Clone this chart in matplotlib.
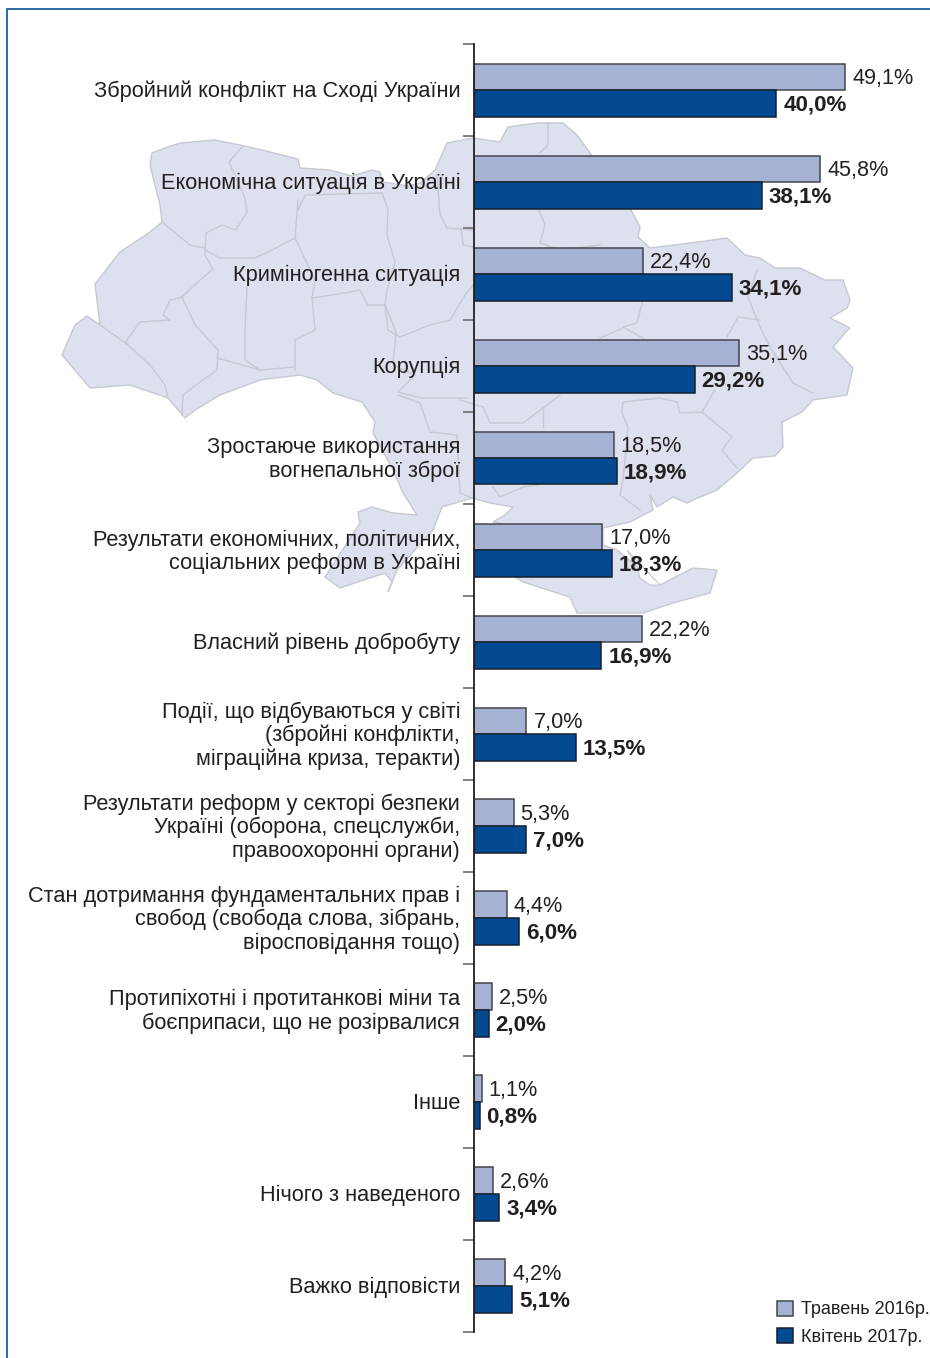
import numpy as np
import matplotlib as mpl
mpl.use("Agg")
from matplotlib import pyplot as plt
from matplotlib.patches import Polygon

plt.rcParams['font.family'] = ['Liberation Sans', 'DejaVu Sans']

categories = [
    "Збройний конфлікт на Сході України",
    "Економічна ситуація в Україні",
    "Криміногенна ситуація",
    "Корупція",
    "Зростаюче використання\nвогнепальної зброї",
    "Результати економічних, політичних,\nсоціальних реформ в Україні",
    "Власний рівень добробуту",
    "Події, що відбуваються у світі\n(збройні конфлікти,\nміграційна криза, теракти)",
    "Результати реформ у секторі безпеки\nУкраїні (оборона, спецслужби,\nправоохоронні органи)",
    "Стан дотримання фундаментальних прав і\nсвобод (свобода слова, зібрань,\nвіросповідання тощо)",
    "Протипіхотні і протитанкові міни та\nбоєприпаси, що не розірвалися",
    "Інше",
    "Нічого з наведеного",
    "Важко відповісти",
]
may_2016 = [49.1, 45.8, 22.4, 35.1, 18.5, 17.0, 22.2, 7.0, 5.3, 4.4, 2.5, 1.1, 2.6, 4.2]
apr_2017 = [40.0, 38.1, 34.1, 29.2, 18.9, 18.3, 16.9, 13.5, 7.0, 6.0, 2.0, 0.8, 3.4, 5.1]
series_names = ["Травень 2016р.", "Квітень 2017р."]

# background map, traced in pixels of the picture
map_outline = [
    (152,153),(165,148),(180,143),(215,140),(245,146),(270,152),(298,159),(300,168),(330,170),
    (352,176),(372,170),(380,172),(383,182),(408,186),(420,183),(435,170),(447,143),(473,138),
    (500,142),(508,127),(537,123),(563,123),(577,135),(590,153),(630,208),(640,227),(638,237),
    (650,248),(690,243),(727,238),(745,255),(760,258),(775,268),(800,268),(825,280),(843,280),
    (850,300),(847,308),(830,318),(850,328),(845,333),(833,347),(853,368),(847,395),(813,400),
    (802,412),(782,422),(783,447),(775,456),(753,458),(737,473),(717,490),(693,500),(687,503),
    (673,497),(657,507),(650,495),(653,510),(630,522),(603,528),(603,545),(617,550),(660,585),
    (693,568),(717,570),(710,593),(673,603),(643,613),(577,613),(570,597),(523,582),(515,577),
    (510,545),(520,527),(493,522),(505,515),(513,507),(490,503),(472,498),(442,507),(433,530),
    (397,570),(388,592),(392,582),(385,573),(340,588),(325,577),(347,543),(360,523),(358,512),
    (372,507),(393,513),(417,515),(403,493),(393,470),(373,433),(375,422),(362,402),(333,393),
    (317,380),(300,375),(260,380),(220,395),(195,410),(185,418),(168,398),(130,385),(90,388),
    (62,355),(75,325),(87,316),(100,325),(95,284),(120,252),(150,232),(162,222),(160,205),
    (150,165),
]
sivash = [(627,550),(660,585),(650,585),(640,578),(637,566)]
map_borders = [
    [(243,146),(229,162),(245,198),(247,212),(236,230),(222,225),(206,233),(205,255),(213,269),(200,280),(182,297),(170,300),(163,315),(170,320),(140,322),(127,340),(126,344)],
    [(162,222),(190,245),(205,248)],
    [(298,200),(295,238),(272,250),(255,258),(220,258),(205,250)],
    [(295,238),(315,280),(312,298),(345,293),(360,290),(368,305),(385,305),(396,332),(393,365),(415,375),(398,392),(421,398),(467,398)],
    [(312,298),(315,330),(295,340),(295,370)],
    [(247,287),(245,330),(245,360),(260,370),(295,367)],
    [(182,297),(195,325),(218,350),(217,370),(200,382),(183,395),(182,415)],
    [(217,358),(260,370)],
    [(127,344),(150,365),(165,385),(168,398)],
    [(100,325),(127,344)],
    [(385,305),(388,330),(400,337),(430,325),(450,320),(465,295),(473,285)],
    [(298,210),(305,195),(382,193),(388,210),(387,235),(395,262),(387,290),(385,305)],
    [(437,175),(440,215),(447,228),(473,230)],
    [(461,228),(463,245),(473,247)],
    [(548,123),(548,145),(540,153)],
    [(538,208),(545,225),(540,243),(560,250),(600,245)],
    [(643,300),(637,323),(623,327),(643,338)],
    [(600,338),(623,328)],
    [(757,270),(748,297),(760,327),(770,347),(793,383),(813,393)],
    [(727,337),(738,317),(760,320)],
    [(715,390),(702,412),(732,437),(722,450),(737,468)],
    [(702,412),(680,413),(677,402),(660,398),(623,402),(622,413),(628,427),(623,480),(620,495),(640,510)],
    [(460,400),(483,407),(490,423),(523,423),(543,408),(560,395)],
    [(543,408),(543,427)],
    [(493,487),(500,497),(523,487),(538,485)],
    [(398,395),(420,403),(430,432),(457,435),(460,493),(472,498)],
]

fig = plt.figure(figsize=(9.30, 13.58), dpi=100)

# page layer in pixel coordinates
bg = fig.add_axes([0, 0, 1, 1], zorder=0)
bg.set_xlim(0, 930)
bg.set_ylim(1358, 0)
bg.axis("off")
bg.add_patch(Polygon(map_outline, closed=True, fc="#dde0ee", ec="#c6c9d2", lw=1.0))
bg.add_patch(Polygon(sivash, closed=True, fc="white", ec="#c6c9d2", lw=0.8))
for b in map_borders:
    xs, ys = zip(*b)
    bg.plot(xs, ys, color="#c6c9d2", lw=1.0)
bg.plot([7, 7, 930], [1358, 9, 9], color="#2a6aa5", lw=1.4)

# chart layer, axis runs from px 473.5, 7.57 px per percent
ax = fig.add_axes([473.5/930, 1 - 1332/1358, (930-473.5)/930, (1332-44)/1358], zorder=1)
ax.patch.set_alpha(0)
n = len(categories)
ax.set_xlim(0, (930-473.5)/7.57)
ax.set_ylim(n, 0)
for s in ["top", "right", "bottom"]:
    ax.spines[s].set_visible(False)
ax.spines["left"].set_color("#231f20")
ax.spines["left"].set_linewidth(1.3)
ax.set_yticks(np.arange(n+1))
ax.set_yticklabels([])
ax.set_xticks([])
ax.tick_params(axis="y", length=8, width=1.3, color="#77777b")

y = np.arange(n) + 0.5
h = 26.5/92
b1 = ax.barh(y - h/2, may_2016, h, color="#a5b2d3", edgecolor="#45454d", lw=1.1, label=series_names[0])
b2 = ax.barh(y + h/2, apr_2017, h, color="#034a92", edgecolor="#14202e", lw=1.1, label=series_names[1])

txt = "#231f20"
for i in range(n):
    ax.annotate(categories[i], (0, y[i]), xytext=(-9.6, -1.2), textcoords="offset points",
                ha="right", va="center", fontsize=15.7, color=txt, linespacing=1.14)
    ax.annotate(f"{may_2016[i]:.1f}%".replace(".", ","), (may_2016[i], y[i]-h/2), xytext=(5, -1.2),
                textcoords="offset points", va="center", fontsize=15.6, color=txt)
    ax.annotate(f"{apr_2017[i]:.1f}%".replace(".", ","), (apr_2017[i], y[i]+h/2), xytext=(5, -1.2),
                textcoords="offset points", va="center", fontsize=16.1, color=txt, fontweight="bold")

leg = ax.legend(handles=[b1, b2], loc="lower left", bbox_to_anchor=(776.5/930, 1-1346/1358),
                bbox_transform=fig.transFigure, frameon=False, borderpad=0, borderaxespad=0,
                prop={"family": ["Liberation Sans"], "size": 13},
                handlelength=0.9, handleheight=0.9, handletextpad=0.45, labelspacing=0.55)
for t in leg.get_texts():
    t.set_color(txt)

fig.savefig("out.png", dpi=100)
